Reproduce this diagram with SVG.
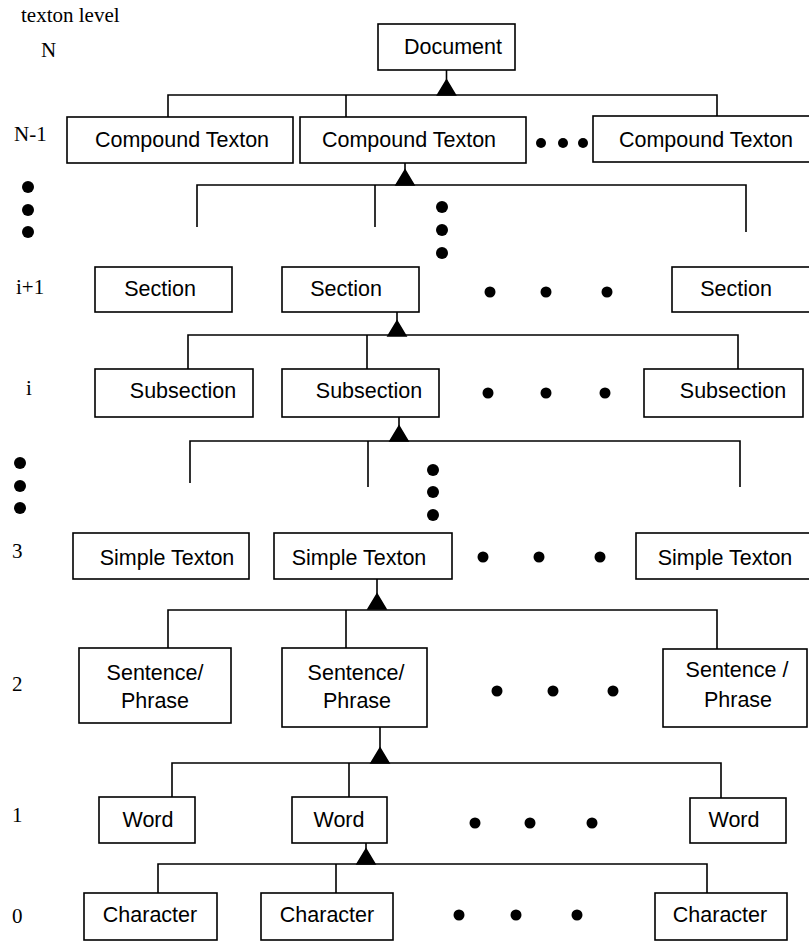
<svg xmlns="http://www.w3.org/2000/svg" xmlns:xlink="http://www.w3.org/1999/xlink" width="809" height="941" viewBox="0 0 809 941">
  <style>
    .box { fill: #ffffff; stroke: #000000; stroke-width: 1.6; }
    .lbl { font-family: "Liberation Sans", Arial, sans-serif; font-size: 21.5px; fill: #000000; text-anchor: middle; }
    .lvl { font-family: "Liberation Serif", "Times New Roman", serif; font-size: 21px; fill: #000000; }
    .wire { fill: none; stroke: #000000; stroke-width: 1.6; }
    .dot { fill: #000000; }
  </style>
  <defs>
    <!-- aggregation triangle, apex at origin -->
    <path id="tri" d="M0,0 L9,15 L-9,15 Z" fill="#000000"/>
  </defs>
  <rect width="809" height="941" fill="#ffffff"/>

  <!-- level labels -->
  <g id="levels">
    <text class="lvl" x="21" y="22">texton level</text>
    <text class="lvl" x="41" y="57">N</text>
    <text class="lvl" x="14" y="141">N-1</text>
    <text class="lvl" x="16" y="294">i+1</text>
    <text class="lvl" x="26" y="395">i</text>
    <text class="lvl" x="12" y="558">3</text>
    <text class="lvl" x="12" y="691">2</text>
    <text class="lvl" x="12" y="822">1</text>
    <text class="lvl" x="12" y="923">0</text>
  </g>

  <!-- connectors -->
  <g id="connectors" class="wire">
    <!-- Document -> Compound Textons -->
    <path d="M446.5,70 V81 M168,117 V95 H717 V116 M346,95 V117"/>
    <use xlink:href="#tri" x="446.5" y="80"/>
    <!-- Compound Texton -> lower levels -->
    <path d="M405,163 V170 M197,227 V185 H746 V232 M375,185 V227"/>
    <use xlink:href="#tri" x="405" y="170"/>
    <!-- Section -> Subsections -->
    <path d="M397,312 V322 M188,369 V335 H738 V369 M367,335 V369"/>
    <use xlink:href="#tri" x="397" y="321"/>
    <!-- Subsection -> lower levels -->
    <path d="M399,417 V427 M190,483 V441 H740 V487 M368,441 V487"/>
    <use xlink:href="#tri" x="399" y="426"/>
    <!-- Simple Texton -> Sentences -->
    <path d="M377,579 V594 M168,648 V610 H717 V649 M346,610 V648"/>
    <use xlink:href="#tri" x="377" y="594"/>
    <!-- Sentence -> Words -->
    <path d="M380,727 V748 M172,797 V763 H721 V798 M349,763 V797"/>
    <use xlink:href="#tri" x="380" y="748"/>
    <!-- Word -> Characters -->
    <path d="M366,843 V850 M158,893 V864 H707 V893 M336,864 V893"/>
    <use xlink:href="#tri" x="366" y="849"/>
  </g>

  <!-- level N -->
  <g id="document">
    <rect class="box" x="378" y="24" width="137" height="46"/>
    <text class="lbl" x="453" y="54">Document</text>
  </g>

  <!-- level N-1 -->
  <g id="compound-1">
    <rect class="box" x="67" y="117" width="226" height="46"/>
    <text class="lbl" x="182" y="147">Compound Texton</text>
  </g>
  <g id="compound-2">
    <rect class="box" x="300" y="117" width="226" height="46"/>
    <text class="lbl" x="409" y="147">Compound Texton</text>
  </g>
  <g id="compound-3">
    <rect class="box" x="593" y="116" width="222" height="46"/>
    <text class="lbl" x="706" y="147">Compound Texton</text>
  </g>

  <!-- level i+1 -->
  <g id="section-1">
    <rect class="box" x="95" y="267" width="137" height="45"/>
    <text class="lbl" x="160" y="296">Section</text>
  </g>
  <g id="section-2">
    <rect class="box" x="282" y="267" width="137" height="45"/>
    <text class="lbl" x="346" y="296">Section</text>
  </g>
  <g id="section-3">
    <rect class="box" x="672" y="267" width="145" height="45"/>
    <text class="lbl" x="736" y="296">Section</text>
  </g>

  <!-- level i -->
  <g id="subsection-1">
    <rect class="box" x="95" y="369" width="158" height="48"/>
    <text class="lbl" x="183" y="398">Subsection</text>
  </g>
  <g id="subsection-2">
    <rect class="box" x="282" y="369" width="157" height="48"/>
    <text class="lbl" x="369" y="398">Subsection</text>
  </g>
  <g id="subsection-3">
    <rect class="box" x="644" y="369" width="159" height="48"/>
    <text class="lbl" x="733" y="398">Subsection</text>
  </g>

  <!-- level 3 -->
  <g id="simple-1">
    <rect class="box" x="73" y="533" width="176" height="46"/>
    <text class="lbl" x="167" y="565">Simple Texton</text>
  </g>
  <g id="simple-2">
    <rect class="box" x="274" y="533" width="178" height="46"/>
    <text class="lbl" x="359" y="565">Simple Texton</text>
  </g>
  <g id="simple-3">
    <rect class="box" x="636" y="533" width="180" height="46"/>
    <text class="lbl" x="725" y="565">Simple Texton</text>
  </g>

  <!-- level 2 -->
  <g id="sentence-1">
    <rect class="box" x="79" y="648" width="152" height="75"/>
    <text class="lbl" x="155" y="680">Sentence/</text>
    <text class="lbl" x="155" y="708">Phrase</text>
  </g>
  <g id="sentence-2">
    <rect class="box" x="282" y="648" width="145" height="79"/>
    <text class="lbl" x="356" y="680">Sentence/</text>
    <text class="lbl" x="357" y="708">Phrase</text>
  </g>
  <g id="sentence-3">
    <rect class="box" x="663" y="649" width="144" height="78"/>
    <text class="lbl" x="737" y="677">Sentence /</text>
    <text class="lbl" x="738" y="707">Phrase</text>
  </g>

  <!-- level 1 -->
  <g id="word-1">
    <rect class="box" x="99" y="797" width="96" height="46"/>
    <text class="lbl" x="148" y="827">Word</text>
  </g>
  <g id="word-2">
    <rect class="box" x="292" y="797" width="95" height="46"/>
    <text class="lbl" x="339" y="827">Word</text>
  </g>
  <g id="word-3">
    <rect class="box" x="690" y="798" width="96" height="45"/>
    <text class="lbl" x="734" y="827">Word</text>
  </g>

  <!-- level 0 -->
  <g id="character-1">
    <rect class="box" x="84" y="893" width="133" height="47"/>
    <text class="lbl" x="150" y="922">Character</text>
  </g>
  <g id="character-2">
    <rect class="box" x="261" y="893" width="132" height="47"/>
    <text class="lbl" x="327" y="922">Character</text>
  </g>
  <g id="character-3">
    <rect class="box" x="655" y="893" width="132" height="47"/>
    <text class="lbl" x="720" y="922">Character</text>
  </g>

  <!-- ellipsis dots -->
  <g id="ellipses" class="dot">
    <circle cx="541" cy="143" r="5"/><circle cx="563" cy="143" r="5"/><circle cx="583" cy="143" r="5"/>
    <circle cx="28" cy="187" r="6"/><circle cx="28" cy="210" r="6"/><circle cx="28" cy="232" r="6"/>
    <circle cx="442" cy="207" r="6"/><circle cx="442" cy="230" r="6"/><circle cx="442" cy="253" r="6"/>
    <circle cx="490" cy="292" r="5.5"/><circle cx="546" cy="292" r="5.5"/><circle cx="607" cy="292" r="5.5"/>
    <circle cx="488" cy="393" r="5.5"/><circle cx="546" cy="393" r="5.5"/><circle cx="605" cy="393" r="5.5"/>
    <circle cx="20" cy="463" r="6"/><circle cx="20" cy="486" r="6"/><circle cx="20" cy="508" r="6"/>
    <circle cx="433" cy="470" r="6"/><circle cx="433" cy="492" r="6"/><circle cx="433" cy="515" r="6"/>
    <circle cx="483" cy="557" r="5.5"/><circle cx="539" cy="557" r="5.5"/><circle cx="600" cy="557" r="5.5"/>
    <circle cx="497" cy="691" r="5.5"/><circle cx="553" cy="691" r="5.5"/><circle cx="613" cy="691" r="5.5"/>
    <circle cx="475" cy="823" r="5.5"/><circle cx="530" cy="823" r="5.5"/><circle cx="592" cy="823" r="5.5"/>
    <circle cx="459" cy="915" r="5.5"/><circle cx="516" cy="915" r="5.5"/><circle cx="577" cy="915" r="5.5"/>
  </g>
</svg>
